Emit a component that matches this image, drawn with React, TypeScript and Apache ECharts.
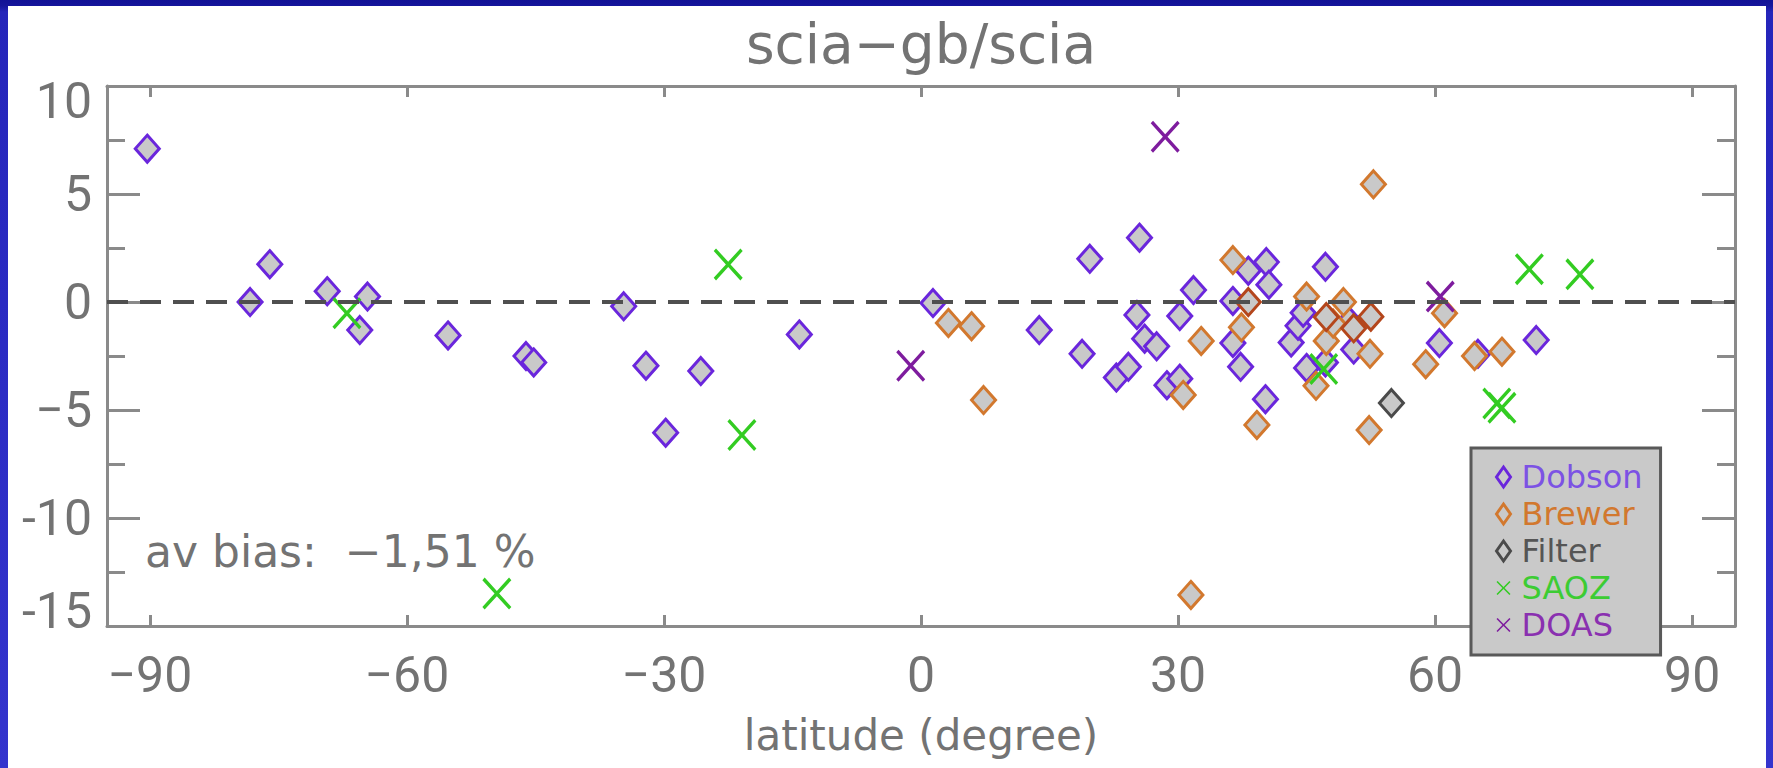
import React, { useEffect, useRef } from 'react';
import * as echarts from 'echarts';

// ---- axis ticks ----
const xTicks = [-90, -60, -30, 0, 30, 60, 90];
const yTickLabels: Record<string, string> = {
  '10': '10',
  '5': '5',
  '0': '0',
  '-5': '\u22125',
  '-10': '-10',
  '-15': '-15',
};

// ---- data: [latitude, relative difference %] ----
const dobson: [number, number][] = [
  [-90.3, 7.1], [-78.3, 0.0], [-76.0, 1.75], [-69.3, 0.5], [-64.6, 0.25], [-65.5, -1.3],
  [-55.2, -1.55], [-46.1, -2.5], [-45.2, -2.8], [-34.7, -0.2], [-32.1, -2.95], [-25.7, -3.2],
  [-29.8, -6.05], [-14.2, -1.5], [1.4, -0.05], [13.8, -1.3], [18.8, -2.4], [19.7, 2.0],
  [22.8, -3.5], [24.2, -3.0], [25.2, -0.6], [25.5, 2.98], [26.1, -1.7], [27.5, -2.05],
  [28.7, -3.85], [30.2, -3.55], [30.2, -0.65], [31.8, 0.55], [36.4, 0.05], [36.4, -1.9],
  [37.3, -3.0], [38.2, 1.45], [40.3, 1.85], [40.6, 0.8], [40.2, -4.5], [43.2, -1.88],
  [44.0, -1.1], [44.6, -0.5], [45.0, -3.05], [47.2, 1.63], [47.2, -2.8], [50.0, -0.9],
  [50.5, -2.2], [60.5, -1.9], [65.0, -2.4], [71.8, -1.76],
];
const brewer: [number, number][] = [
  [3.2, -0.97], [5.9, -1.12], [7.3, -4.54], [30.6, -4.3], [31.5, -13.56], [32.7, -1.8],
  [36.4, 1.94], [37.4, -1.17], [39.2, -5.69], [45.0, 0.25], [46.1, -3.88], [47.3, -1.8],
  [48.1, -1.0], [49.3, 0.0], [52.4, -2.4], [52.3, -5.93], [52.8, 5.45], [58.9, -2.88],
  [61.1, -0.52], [64.6, -2.5], [67.8, -2.3],
];
const brewerDark: [number, number][] = [
  [38.2, 0.0], [47.3, -0.7], [50.5, -1.22], [52.5, -0.68],
];
const filterData: [number, number][] = [[54.9, -4.68]];
const saoz: [number, number][] = [
  [-67.0, -0.52], [-49.5, -13.5], [-22.5, 1.74], [-20.9, -6.16], [47.0, -3.1],
  [67.2, -4.7], [67.8, -4.9], [71.0, 1.52], [76.9, 1.28],
];
const doas: [number, number][] = [[-1.2, -2.95], [28.5, 7.65], [60.6, 0.25]];
const avBias = -1.51;

// ---- styles ----
const AXIS = '#8a8a8a';
const TXT = '#737373';
const FILL = '#c9c9c9';
const C_DOBSON = '#6a26dc';
const C_BREWER = '#d2782e';
const C_BREWER_DARK = '#b4461c';
const C_FILTER = '#4a4a4a';
const C_SAOZ = '#33cc22';
const C_DOAS = '#7e1c9e';
const FONT_TICK = '"Liberation Sans Narrow", Roboto, "DejaVu Sans", sans-serif';
const FONT_TEXT = '"DejaVu Sans", sans-serif';
const X_PATH =
  'path://M0,2.4L2.4,0L15,12.6L27.6,0L30,2.4L17.4,15L30,27.6L27.6,30L15,17.4L2.4,30L0,27.6L12.6,15Z';

const fmtBias = (v: number) =>
  (v < 0 ? '\u2212' : '') + Math.abs(v).toFixed(2).replace('.', ',');

const diamond = (name: string, data: [number, number][], color: string) => ({
  type: 'scatter',
  name,
  data,
  symbol: 'diamond',
  symbolSize: [24, 27],
  itemStyle: { color: FILL, borderColor: color, borderWidth: 3, opacity: 1 },
  emphasis: { disabled: true },
});

const cross = (name: string, data: [number, number][], color: string) => ({
  type: 'scatter',
  name,
  data,
  symbol: X_PATH,
  symbolSize: [29, 32],
  itemStyle: { color, opacity: 1 },
  emphasis: { disabled: true },
});

export default function App() {
  const ref = useRef<HTMLDivElement>(null);

  useEffect(() => {
    if (!ref.current) return;
    const chart = echarts.init(ref.current, null, { renderer: 'svg' });

    const xCommon = {
      type: 'value',
      min: -95,
      max: 95,
      splitLine: { show: false },
      axisLine: { onZero: false, lineStyle: { color: AXIS, width: 3 } },
      axisTick: { inside: true, length: 11, customValues: xTicks, lineStyle: { color: AXIS, width: 3 } },
    };
    const yCommon = {
      type: 'value',
      min: -15,
      max: 10,
      interval: 5,
      splitLine: { show: false },
      axisLine: { onZero: false, lineStyle: { color: AXIS, width: 3 } },
      axisTick: { inside: true, length: 33, lineStyle: { color: AXIS, width: 3 } },
      minorTick: { show: true, splitNumber: 2, length: 18, lineStyle: { color: AXIS, width: 3 } },
      minorSplitLine: { show: false },
    };

    const option: any = {
      animation: false,
      title: {
        text: 'scia\u2212gb/scia',
        left: 913,
        top: 10,
        padding: 0,
        textAlign: 'center',
        textStyle: { fontFamily: FONT_TEXT, fontSize: 55, fontWeight: 'normal', color: TXT },
      },
      grid: { left: 99, top: 80, width: 1628, height: 540, containLabel: false },
      xAxis: [
        {
          ...xCommon,
          position: 'bottom',
          name: 'latitude (degree)',
          nameLocation: 'middle',
          nameGap: 88,
          nameTextStyle: { fontFamily: FONT_TEXT, fontSize: 42, color: TXT },
          axisLabel: {
            customValues: xTicks,
            margin: 24,
            color: TXT,
            fontSize: 50,
            fontFamily: FONT_TICK,
            formatter: (v: number) => (v < 0 ? '\u2212' + Math.abs(v) : String(v)),
          },
        },
        { ...xCommon, position: 'top', axisLabel: { show: false } },
      ],
      yAxis: [
        {
          ...yCommon,
          position: 'left',
          axisLabel: {
            margin: 15,
            color: TXT,
            fontSize: 50,
            lineHeight: 30,
            fontFamily: FONT_TICK,
            verticalAlignMaxLabel: 'top',
            verticalAlignMinLabel: 'bottom',
            formatter: (v: number) => yTickLabels[String(v)] ?? String(v),
          },
        },
        { ...yCommon, position: 'right', axisLabel: { show: false } },
      ],
      legend: {
        orient: 'vertical',
        left: 1463,
        top: 442,
        selectedMode: false,
        backgroundColor: FILL,
        borderColor: '#595959',
        borderWidth: 3,
        borderRadius: 0,
        padding: [13, 18, 14, 24],
        itemGap: 5,
        itemWidth: 14,
        itemHeight: 20,
        textStyle: { fontFamily: FONT_TEXT, fontSize: 32, lineHeight: 32, padding: [0, 0, 0, 6] },
        data: [
          { name: 'Dobson', textStyle: { color: '#7c52e4' }, itemStyle: { borderWidth: 3 } },
          { name: 'Brewer', textStyle: { color: C_BREWER }, itemStyle: { borderWidth: 3 } },
          { name: 'Filter', textStyle: { color: '#555555' }, itemStyle: { borderWidth: 3 } },
          { name: 'SAOZ', textStyle: { color: '#3ccc33' } },
          { name: 'DOAS', textStyle: { color: '#8a30b0' } },
        ],
      },
      graphic: [
        {
          type: 'text',
          left: 137,
          top: 523,
          style: {
            text: 'av bias:  ' + fmtBias(avBias) + ' %',
            fill: TXT,
            font: '44px "DejaVu Sans", sans-serif',
          },
          z: 10,
        },
      ],
      series: [
        {
          ...diamond('Dobson', dobson, C_DOBSON),
          markLine: {
            silent: true,
            symbol: 'none',
            label: { show: false },
            lineStyle: { type: [21, 12], color: '#4f4f4f', width: 4 },
            data: [{ yAxis: 0 }],
            z: 5,
          },
        },
        diamond('Brewer', brewer, C_BREWER),
        diamond('Brewer', brewerDark, C_BREWER_DARK),
        diamond('Filter', filterData, C_FILTER),
        cross('SAOZ', saoz, C_SAOZ),
        cross('DOAS', doas, C_DOAS),
      ],
    };

    chart.setOption(option);
    return () => chart.dispose();
  }, []);

  return (
    <div
      style={{
        position: 'fixed',
        left: 0,
        top: 0,
        width: 1773,
        height: 768,
        overflow: 'hidden',
        background:
          'linear-gradient(180deg, #121296 0px, #16169c 6px, #2525ba 12px, #2a2ac2 300px, #3434cd 768px)',
      }}
    >
      <div
        ref={ref}
        style={{ position: 'absolute', left: 8, top: 6, width: 1758, height: 762, background: '#ffffff' }}
      />
    </div>
  );
}
